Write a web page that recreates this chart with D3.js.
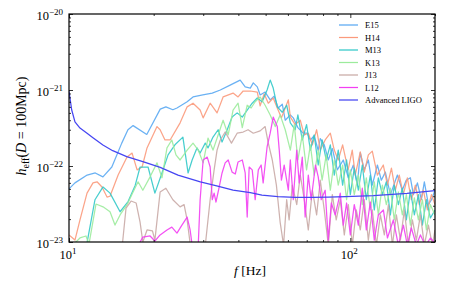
<!DOCTYPE html>
<html>
<head>
<meta charset="utf-8">
<script src="https://cdn.jsdelivr.net/npm/d3@7/dist/d3.min.js"></script>
<style>
  body { margin: 0; background: #fff; }
  text { font-family: "Liberation Serif", "DejaVu Serif", serif; }
</style>
</head>
<body>
<div id="chart"></div>
<script>
// [frequency Hz, h_eff]
const e15 = [[10.0,5.0e-23],[10.5,6.0e-23],[11.6,7.6e-23],[12.4,8.1e-23],[13.2,7.2e-23],[14.2,9.7e-23],[15.4,2.0e-22],[16.2,3.0e-22],[16.9,3.4e-22],[18.9,2.6e-22],[21.1,5.6e-22],[22.1,6.0e-22],[23.4,5.5e-22],[24.2,5.8e-22],[26.3,7.0e-22],[27.6,8.1e-22],[29.9,8.6e-22],[32.3,9.1e-22],[34.5,1.0e-21],[37.4,1.16e-21],[40.6,1.35e-21],[42.3,1.1e-21],[44.1,1.06e-21],[45.2,1.24e-21],[46.7,1.1e-21],[47.8,8.6e-22],[49.8,9.4e-22],[51.9,7.4e-22],[53.6,8.3e-22],[55.4,5.8e-22],[57.3,6.5e-22],[58.7,4.0e-22],[61.2,4.7e-22],[62.7,4.3e-22],[65.1,3.2e-22],[68.0,2.7e-22],[70.3,2.7e-22],[72.1,2.2e-22],[74.4,2.5e-22],[76.9,1.6e-22],[78.2,2.3e-22],[80.8,1.9e-22],[83.5,1.2e-22],[86.3,1.7e-22],[89.9,8.9e-23],[94.4,1.2e-22],[98.4,7.0e-23],[102.5,1.03e-22],[105.9,5.6e-23],[108.5,1.5e-22],[112.1,8.9e-23],[115.9,1.2e-22],[119.7,5.6e-23],[124.8,1.03e-22],[128.9,6.5e-23],[133.2,8.3e-23],[138.8,4.2e-23],[147.0,7.6e-23],[153.0,4.8e-23],[158.0,6.5e-23],[163.5,7.0e-23],[167.6,4.2e-23],[173.2,6.0e-23],[178.9,3.6e-23],[183.3,6.2e-23],[189.5,3.1e-23],[194.3,3.6e-23],[200,4.8e-23]];

const h14 = [[10.0,1.24e-23],[10.5,1.06e-23],[10.94,1.95e-23],[11.59,4.4e-23],[12.17,6.0e-23],[12.58,6.2e-23],[13.1,5.3e-23],[13.65,3.9e-23],[13.99,4.0e-23],[14.95,7.6e-23],[16.08,1.31e-22],[16.76,1.48e-22],[17.46,8.9e-23],[18.19,9.7e-23],[18.94,1.73e-22],[20.55,3.3e-22],[21.08,3.0e-22],[21.94,2.2e-22],[22.88,2.2e-22],[24.83,3.7e-22],[26.3,6.0e-22],[27.6,6.7e-22],[29.25,5.45e-22],[29.98,4.3e-22],[31.75,6.7e-22],[33.6,5.0e-22],[35.3,8.1e-22],[38.3,9.1e-22],[39.9,8.1e-22],[41.6,9.7e-22],[44.1,9.7e-22],[46.7,9.4e-22],[47.8,6.2e-22],[49.4,8.9e-22],[51.1,6.7e-22],[53.2,7.85e-22],[55.0,5.8e-22],[56.9,4.3e-22],[60.2,7.4e-22],[61.2,4.4e-22],[63.7,3.5e-22],[66.4,4.0e-22],[68.6,2.56e-22],[70.9,2.7e-22],[73.3,1.9e-22],[75.9,3.0e-22],[78.2,1.62e-22],[81.4,2.2e-22],[84.9,2.7e-22],[87.7,1.62e-22],[90.6,1.2e-22],[93.9,1.9e-22],[98.2,8.9e-23],[101.6,1.62e-22],[104.1,7.6e-23],[108.5,1.53e-22],[112.1,8.3e-23],[115.9,1.4e-22],[119.7,1.57e-22],[124.8,7.6e-23],[131.0,1.03e-22],[135.5,5.6e-23],[140.0,9.4e-23],[144.5,4.8e-23],[149.3,7.6e-23],[154.3,4.2e-23],[159.5,7.0e-23],[164.8,3.6e-23],[170.3,5.6e-23],[175.9,3.1e-23],[181.8,4.8e-23],[187.9,2.64e-23],[194.3,4.2e-23],[200,3.1e-23]];

const m13 = [[11.4,7.0e-24],[12.37,3.6e-23],[13.21,5.3e-23],[13.99,4.4e-23],[15.19,2.5e-23],[16.22,3.4e-23],[17.2,5.6e-23],[17.89,9.7e-23],[19.1,9.7e-23],[20.2,4.4e-23],[21.4,8.1e-23],[22.5,1.4e-22],[23.8,1.9e-22],[25.4,2.4e-22],[26.5,8.1e-23],[27.4,1.2e-22],[28.5,1.73e-22],[29.25,1.48e-22],[30.5,2.0e-22],[31.2,1.73e-22],[32.5,2.4e-22],[33.9,3.0e-22],[35.0,2.07e-22],[36.5,3.0e-22],[38.0,4.4e-22],[39.6,5.0e-22],[41.3,4.4e-22],[43.0,5.45e-22],[44.8,6.7e-22],[46.7,7.85e-22],[48.6,7.0e-22],[50.6,1.0e-21],[51.9,1.35e-21],[53.2,1.06e-21],[55.0,6.0e-22],[57.3,5.1e-22],[59.4,6.3e-22],[61.2,3.7e-22],[63.7,3.0e-22],[65.1,4.7e-22],[67.5,2.2e-22],[69.9,3.5e-22],[72.1,1.62e-22],[74.4,2.56e-22],[76.9,1.03e-22],[79.4,2.2e-22],[82.1,1.2e-22],[84.9,1.9e-22],[87.7,7.6e-23],[90.6,1.62e-22],[93.9,5.6e-23],[97.0,1.2e-22],[100,4.2e-23],[103.3,9.4e-23],[106.8,4.8e-23],[110.3,1.03e-22],[114.0,3.6e-23],[117.8,7.6e-23],[121.7,2.64e-23],[125.8,7.0e-23],[130.0,4.2e-23],[134.3,6.2e-23],[138.8,2.27e-23],[143.3,5.6e-23],[148.2,3.1e-23],[153.1,5.1e-23],[158.2,1.95e-23],[163.5,4.8e-23],[168.9,2.27e-23],[174.6,4.2e-23],[180.4,1.67e-23],[186.4,3.6e-23],[192.6,2.07e-23],[200,2.64e-23]];

const k13 = [[10.25,8.9e-24],[10.94,1.13e-23],[11.49,1.2e-23],[11.78,9.4e-24],[12.47,3.16e-23],[13.21,2.9e-23],[13.99,2.5e-23],[14.57,1.67e-23],[15.19,2.27e-23],[16.08,3.1e-23],[16.9,4.55e-23],[17.6,6.2e-23],[18.3,4.8e-23],[19.42,7.2e-23],[20.55,1.1e-22],[21.4,7.0e-23],[22.3,1.73e-22],[23.2,2.2e-22],[24.0,1.4e-22],[24.83,1.2e-22],[26.3,1.62e-22],[27.6,2.0e-22],[28.8,1.62e-22],[29.98,1.1e-22],[31.2,2.33e-22],[32.5,1.62e-22],[33.9,2.56e-22],[35.3,4.0e-22],[36.8,2.56e-22],[38.3,5.45e-22],[39.9,6.7e-22],[41.3,3.2e-22],[43.0,6.3e-22],[44.4,5.8e-22],[45.9,7.0e-22],[47.8,8.1e-22],[49.8,6.3e-22],[51.9,4.7e-22],[54.1,3.3e-22],[56.3,4.7e-22],[58.7,3.0e-22],[61.2,1.62e-22],[63.2,3.5e-22],[65.1,1.2e-22],[67.5,2.56e-22],[69.9,8.9e-23],[72.1,1.9e-22],[74.4,7.6e-23],[76.9,1.62e-22],[79.4,6.5e-23],[82.1,1.4e-22],[84.9,4.8e-23],[87.7,1.2e-22],[90.6,5.6e-23],[93.9,1.03e-22],[97.0,3.6e-23],[100,8.9e-23],[103.3,4.2e-23],[106.8,7.6e-23],[110.3,3.1e-23],[114.0,7.0e-23],[117.8,2.64e-23],[121.7,6.2e-23],[125.8,2.27e-23],[130.0,5.6e-23],[134.3,3.1e-23],[138.8,5.1e-23],[143.3,1.95e-23],[148.2,4.55e-23],[153.1,2.27e-23],[158.2,4.2e-23],[163.5,1.67e-23],[168.9,3.8e-23],[174.6,1.95e-23],[180.4,3.6e-23],[186.4,1.44e-23],[192.6,3.1e-23],[200,2.27e-23]];

const j13 = [[15.43,8.3e-24],[15.95,2.8e-23],[16.62,3.46e-23],[17.32,3.26e-23],[17.89,1.83e-23],[18.3,1.0e-23],[18.94,1.44e-23],[19.8,1.4e-23],[20.2,1.06e-23],[21.08,4.55e-23],[22.1,5.1e-23],[23.4,3.6e-23],[24.83,2.9e-23],[25.65,3.1e-23],[26.3,1.95e-23],[27.0,9.1e-24],[28.1,8.3e-24],[30.5,8.9e-24],[31.75,3.6e-23],[32.8,8.9e-23],[33.6,1.62e-22],[34.5,2.2e-22],[35.9,2.8e-22],[37.8,2.0e-22],[39.6,2.7e-22],[41.6,2.8e-22],[43.3,3.0e-22],[45.2,2.7e-22],[47.8,2.9e-22],[49.8,3.3e-22],[51.1,2.0e-22],[52.8,1.2e-22],[54.6,5.6e-23],[56.3,1.83e-23],[57.9,9.1e-24],[59.4,3.6e-23],[60.6,1.95e-23],[62.2,5.6e-23],[64.5,3.1e-23],[66.4,7.6e-23],[68.6,3.6e-23],[70.9,1.44e-23],[73.3,4.8e-23],[75.9,2.27e-23],[78.2,6.5e-23],[80.8,2.64e-23],[83.5,9.1e-24],[86.3,4.2e-23],[89.1,1.95e-23],[92.1,3.6e-23],[95.2,1.24e-23],[98.4,3.1e-23],[101.7,9.1e-24],[105.0,2.64e-23],[108.5,1.44e-23],[112.1,3.6e-23],[115.9,1.06e-23],[119.7,2.64e-23],[123.8,9.1e-24],[127.9,2.27e-23],[132.1,1.24e-23],[136.6,3.1e-23],[141.1,9.1e-24],[145.8,2.27e-23],[150.7,1.06e-23],[155.6,2.64e-23],[160.8,9.1e-24],[166.2,1.95e-23],[171.7,1.06e-23],[177.5,2.27e-23],[183.3,9.1e-24],[189.5,1.67e-23],[195.8,9.1e-24],[200,1.44e-23]];

const l12 = [[17.6,8.9e-24],[18.3,1.16e-23],[19.42,1.2e-23],[20.2,1.03e-23],[21.08,1.24e-23],[22.3,1.44e-23],[23.2,1.57e-23],[24.2,1.31e-23],[25.2,1.67e-23],[26.3,2.13e-23],[26.95,1.44e-23],[27.4,9.1e-24],[28.8,9.1e-24],[29.25,3.6e-23],[29.98,1.2e-22],[31.0,1.31e-22],[31.75,9.7e-23],[32.3,3.6e-23],[32.8,4.4e-23],[33.3,3.36e-23],[34.2,5.3e-23],[35.0,8.1e-23],[35.9,1.1e-22],[36.8,1.2e-22],[38.0,8.3e-23],[39.0,7.85e-23],[39.9,1.13e-22],[41.3,1.2e-22],[42.3,8.1e-23],[43.0,2.13e-23],[43.7,9.7e-23],[44.8,8.9e-23],[45.9,3.6e-23],[47.1,8.9e-23],[48.2,1.03e-22],[49.0,6.0e-23],[50.6,1.78e-22],[51.9,2.7e-22],[53.2,4.4e-22],[55.0,3.3e-22],[55.9,1.62e-22],[56.9,6.5e-23],[58.2,1.03e-22],[60.2,4.8e-23],[61.2,1.2e-22],[62.7,3.6e-23],[64.5,1.62e-22],[65.8,6.0e-23],[67.5,1.31e-22],[69.1,2.13e-23],[70.9,7.6e-23],[72.6,3.6e-23],[75.2,1.03e-22],[76.9,7.2e-23],[78.8,3.6e-23],[81.4,4.8e-23],[83.5,1.06e-23],[85.6,3.26e-23],[88.4,2.27e-23],[92.1,4.4e-23],[94.4,1.67e-23],[97.0,3.26e-23],[100,1.24e-23],[103.3,3.1e-23],[106.8,1.67e-23],[110.3,5.1e-23],[114.0,1.44e-23],[117.8,3.36e-23],[121.7,1.06e-23],[125.8,2.27e-23],[131.1,2.64e-23],[135.5,1.13e-23],[142.2,1.95e-23],[148.2,9.1e-24],[154.4,1.67e-23],[159.5,9.1e-24],[164.8,1.53e-23],[171.7,9.1e-24],[177.5,1.24e-23],[184.9,8.9e-24],[192.6,1.13e-23],[200,9.7e-24]];

const aligo = [[10.0,9.6e-22],[10.22,5.5e-22],[10.5,3.8e-22],[10.94,3.16e-22],[11.56,2.72e-22],[12.2,2.34e-22],[13.2,1.89e-22],[14.3,1.59e-22],[16.04,1.33e-22],[18.3,1.14e-22],[21.1,9.6e-23],[24.4,7.6e-23],[29.3,6.2e-23],[33.5,5.46e-23],[38.3,4.83e-23],[44.1,4.46e-23],[48.5,4.15e-23],[55.3,3.95e-23],[63.7,3.87e-23],[73.3,3.87e-23],[83.5,3.9e-23],[96.0,3.95e-23],[120.8,4.07e-23],[159,4.37e-23],[200,4.76e-23]];

const seriesNames = ["E15", "H14", "M13", "K13", "J13", "L12", "Advanced LIGO"];
const seriesData = [e15, h14, m13, k13, j13, l12, aligo];
const seriesColors = ["#5aa8f2", "#fb9a7c", "#33c9c9", "#9ceb9c", "#c9aaa6", "#f23ff2", "#4646f2"];

const xMajor = [10, 100];
const xMajorExp = ["1", "2"];
const yMajor = [1e-23, 1e-22, 1e-21, 1e-20];
const yMajorExp = ["\u221223", "\u221222", "\u221221", "\u221220"];

const W = 458, H = 286;
const margin = { top: 14, right: 23, bottom: 44, left: 69 };
const width = W - margin.left - margin.right,
      height = H - margin.top - margin.bottom;

const svg = d3.select("#chart").append("svg")
    .attr("width", W)
    .attr("height", H);

const g = svg.append("g")
    .attr("transform", `translate(${margin.left},${margin.top})`);

const x = d3.scaleLog().domain([10, 200]).range([0, width]);
const y = d3.scaleLog().domain([1e-23, 1e-20]).range([height, 0]);

g.append("clipPath").attr("id", "clip")
  .append("rect").attr("width", width).attr("height", height);

const line = d3.line()
    .x(d => x(d[0]))
    .y(d => y(d[1]));

const lines = g.append("g").attr("clip-path", "url(#clip)");
seriesData.forEach((data, i) => {
    lines.append("path")
        .datum(data)
        .attr("d", line)
        .attr("fill", "none")
        .attr("stroke", seriesColors[i])
        .attr("stroke-width", 1.25)
        .attr("stroke-opacity", i === 6 ? 1 : 0.9)
        .attr("stroke-linejoin", "round");
});

// inward ticks on all four sides
function styleAxis(sel) {
    sel.select(".domain").remove();
    sel.selectAll("line").attr("stroke", "#000").attr("stroke-width", 0.8);
}
const minorX = x.ticks().filter(v => !xMajor.includes(v));
const minorY = y.ticks().filter(v => !yMajor.some(m => Math.abs(m - v) / m < 1e-6));

g.append("g").attr("transform", `translate(0,${height})`)
    .call(d3.axisBottom(x).tickValues(xMajor).tickSize(-4).tickFormat("")).call(styleAxis);
g.append("g").attr("transform", `translate(0,${height})`)
    .call(d3.axisBottom(x).tickValues(minorX).tickSize(-2).tickFormat("")).call(styleAxis);
g.append("g")
    .call(d3.axisTop(x).tickValues(xMajor).tickSize(-4).tickFormat("")).call(styleAxis);
g.append("g")
    .call(d3.axisTop(x).tickValues(minorX).tickSize(-2).tickFormat("")).call(styleAxis);
g.append("g")
    .call(d3.axisLeft(y).tickValues(yMajor).tickSize(-4).tickFormat("")).call(styleAxis);
g.append("g")
    .call(d3.axisLeft(y).tickValues(minorY).tickSize(-2).tickFormat("")).call(styleAxis);
g.append("g").attr("transform", `translate(${width},0)`)
    .call(d3.axisRight(y).tickValues(yMajor).tickSize(-4).tickFormat("")).call(styleAxis);
g.append("g").attr("transform", `translate(${width},0)`)
    .call(d3.axisRight(y).tickValues(minorY).tickSize(-2).tickFormat("")).call(styleAxis);

g.append("rect")
    .attr("width", width).attr("height", height)
    .attr("fill", "none").attr("stroke", "#000").attr("stroke-width", 1.2);

// tick labels
xMajor.forEach((v, i) => {
    const t = g.append("text")
        .attr("x", x(v) - 1)
        .attr("y", height + 17)
        .attr("text-anchor", "middle")
        .attr("font-size", "12.5px");
    t.append("tspan").text("10");
    t.append("tspan").attr("dy", -5).attr("font-size", "9px").text(xMajorExp[i]);
});
yMajor.forEach((v, i) => {
    const t = g.append("text")
        .attr("x", -6)
        .attr("y", y(v) + 6)
        .attr("text-anchor", "end")
        .attr("font-size", "12.5px");
    t.append("tspan").text("10");
    t.append("tspan").attr("dy", -5).attr("font-size", "9px").text(yMajorExp[i]);
});

// axis titles
const xl = g.append("text")
    .attr("x", 181)
    .attr("y", height + 33)
    .attr("text-anchor", "middle")
    .attr("font-size", "13.5px");
xl.append("tspan").attr("font-style", "italic").text("f");
xl.append("tspan").text(" [Hz]");

const yl = g.append("text")
    .attr("transform", "rotate(-90)")
    .attr("x", -height / 2 + 2)
    .attr("y", -43)
    .attr("text-anchor", "middle")
    .attr("font-size", "14px");
yl.append("tspan").attr("font-style", "italic").text("h");
yl.append("tspan").attr("font-size", "10px").attr("dy", 3).text("eff");
yl.append("tspan").attr("dy", -3).text("(");
yl.append("tspan").attr("font-style", "italic").text("D");
yl.append("tspan").text(" = 100Mpc)");

// legend
const legend = g.append("g")
    .attr("transform", `translate(${width - 96}, 11)`);
seriesNames.forEach((name, i) => {
    const row = legend.append("g").attr("transform", `translate(0, ${i * 12.5})`);
    row.append("line")
        .attr("x1", 0).attr("x2", 19)
        .attr("stroke", seriesColors[i])
        .attr("stroke-width", 1.25);
    row.append("text")
        .attr("x", 26)
        .attr("y", 3)
        .attr("font-size", "8.5px")
        .text(name);
});
</script>
</body>
</html>
